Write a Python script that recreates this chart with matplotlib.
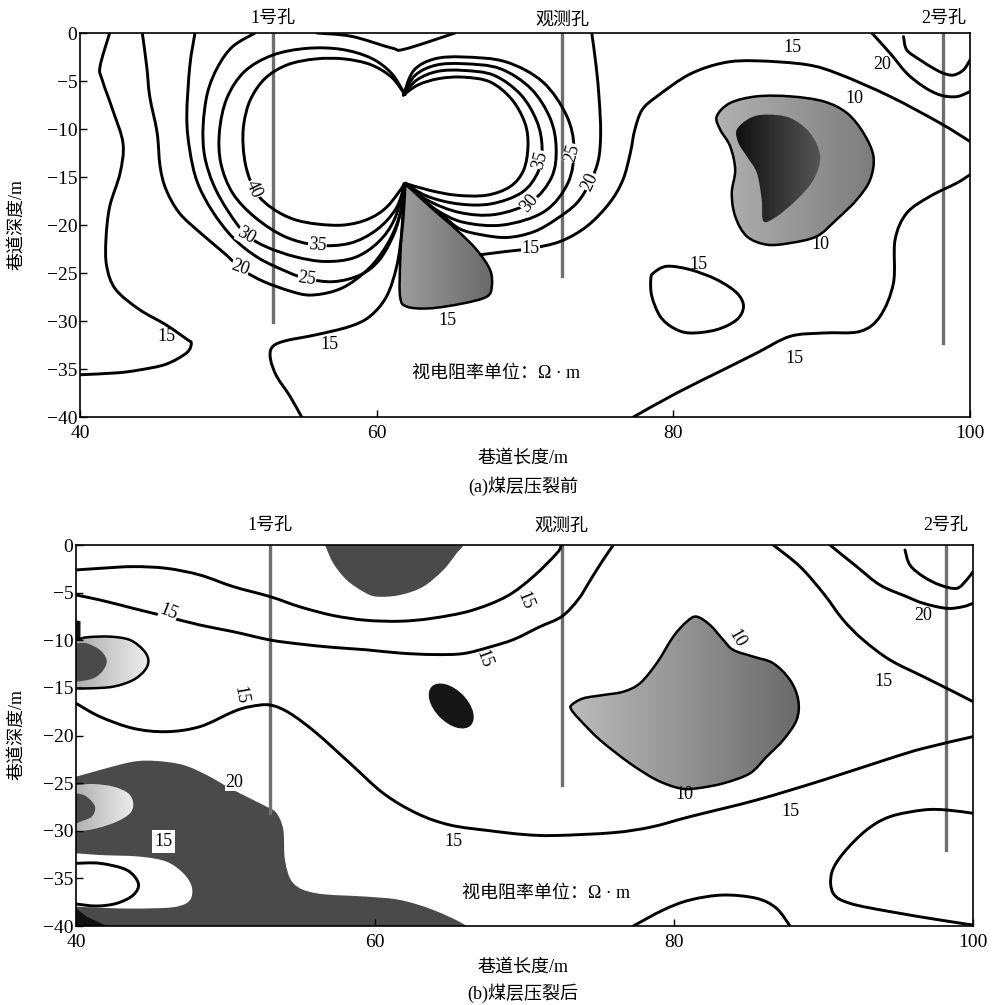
import numpy as np
import matplotlib.pyplot as plt
from matplotlib.patches import PathPatch, Ellipse
from matplotlib.path import Path
from matplotlib.colors import LinearSegmentedColormap
from matplotlib.transforms import ScaledTranslation

plt.rcParams['font.family'] = ['Liberation Serif', 'Noto Sans CJK SC']
plt.rcParams['axes.unicode_minus'] = True

# ---- shared ----
hole_names = ['1号孔', '观测孔', '2号孔']
hole_x = [53.0, 72.5, 98.2]
a_hole_depth = [-30.1, -25.3, -32.3]
b_hole_depth = [-28.1, -25.2, -32.0]
x_ticks = [40, 60, 80, 100]
y_ticks = [0, -5, -10, -15, -20, -25, -30, -35, -40]
unit_text = '视电阻率单位：Ω · m'

# ---- panel (a): before fracturing ----
a_15_left = [(42.0, 0), (41.35, -3.5), (41.5, -4.9), (42.2, -8.0), (42.9, -11.5), (42.7, -14.6),
             (42.0, -18.1), (41.75, -21.5), (41.8, -24.3), (42.4, -26.7), (44.0, -28.8), (45.8, -30.4),
             (47.2, -31.9), (47.5, -32.3), (47.2, -33.3), (45.8, -34.5), (44.0, -35.1), (42.5, -35.4),
             (40.0, -35.6)]
a_20_left = [(44.2, 0), (44.5, -3.5), (44.7, -6.6), (45.2, -10.4), (45.4, -13.9), (45.8, -16.3),
             (46.7, -18.75), (48.1, -20.8), (49.7, -22.9), (51.0, -24.7), (52.4, -25.9), (54.2, -26.9),
             (55.5, -27.3), (57.1, -26.9), (58.4, -25.9), (59.8, -24.0), (60.9, -21.5), (61.6, -18.75),
             (61.92, -15.66)]
a_25_left = [(47.75, 0), (47.4, -3.5), (47.2, -8.7), (47.4, -12.2), (47.9, -15.5), (48.9, -18.5),
             (50.3, -21.3), (52.0, -23.4), (54.0, -24.9), (55.3, -25.6), (57.1, -25.9), (58.9, -25.2),
             (60.2, -23.6), (61.2, -20.8), (61.7, -18.0), (61.92, -15.66)]
a_30_left = [(51.8, 0), (50.3, -1.4), (49.3, -3.5), (48.6, -6.2), (48.3, -9.7), (48.4, -12.8),
             (49.0, -15.8), (50.0, -18.6), (51.2, -21.0), (52.6, -22.3), (54.5, -23.3), (56.5, -23.8),
             (58.5, -23.4), (60.1, -21.8), (61.2, -19.4), (61.92, -15.66)]
a_35_left = [(61.91, -6.42), (61.0, -4.2), (59.6, -2.6), (57.6, -1.7), (55.3, -1.6), (53.0, -2.3),
             (51.1, -4.0), (49.9, -6.8), (49.4, -10.3), (49.5, -13.6), (50.3, -16.7), (51.8, -19.2),
             (53.8, -21.2), (56.0, -22.1), (58.2, -21.9), (60.0, -20.5), (61.3, -18.3), (61.92, -15.66)]
a_40_left = [(61.91, -6.42), (61.0, -4.6), (59.6, -3.3), (57.8, -2.7), (55.9, -2.7), (54.0, -3.3),
             (52.5, -4.7), (51.5, -6.9), (51.05, -9.4), (51.0, -11.8), (51.25, -14.3), (51.9, -16.7),
             (53.0, -18.3), (54.4, -19.4), (56.0, -19.9), (57.8, -20.0), (59.4, -19.4), (60.7, -18.1),
             (61.92, -15.66)]
a_40_right = [(61.8, -6.46), (62.8, -5.4), (64.2, -4.75), (65.85, -4.6), (67.65, -5.1), (69.1, -6.9),
              (70.0, -9.4), (70.2, -11.8), (69.9, -14.3), (69.0, -16.0), (67.4, -16.9), (65.4, -16.9),
              (63.6, -16.4), (61.92, -15.66)]
a_35_right = [(61.8, -6.46), (62.7, -4.9), (64.1, -4.0), (65.85, -3.9), (67.9, -4.4), (69.7, -6.4),
              (70.8, -9.2), (71.15, -11.9), (70.9, -14.4), (69.8, -16.6), (67.7, -17.8), (65.5, -17.8),
              (63.4, -17.0), (61.92, -15.66)]
a_30_right = [(61.8, -6.46), (62.6, -4.4), (64.0, -3.35), (65.85, -3.2), (68.3, -3.7), (70.4, -5.8),
              (71.7, -8.9), (72.1, -12.0), (71.8, -15.0), (70.4, -17.6), (68.0, -18.9), (65.6, -18.7),
              (63.4, -17.4), (61.92, -15.66)]
a_25_right = [(61.8, -6.46), (62.5, -3.9), (63.9, -2.7), (65.85, -2.5), (68.7, -3.0), (71.2, -5.1),
              (72.8, -8.6), (73.3, -12.0), (72.9, -15.6), (71.3, -18.6), (68.5, -20.0), (65.8, -19.7),
              (64.0, -18.4), (62.8, -16.8), (61.92, -15.66)]
a_20_right = [(74.5, 0), (74.8, -3.5), (75.0, -6.9), (75.1, -10.4), (74.95, -13.2), (74.4, -15.5),
              (73.5, -17.7), (72.1, -19.4), (70.6, -20.7), (68.8, -21.3), (67.0, -21.0), (65.6, -20.4),
              (64.5, -19.1), (63.2, -17.5), (61.92, -15.66)]
a_15_big = [(100.0, -11.3), (98.0, -9.4), (94.6, -6.6), (91.2, -4.3), (89.0, -3.3), (85.6, -2.9),
            (83.4, -3.1), (81.1, -4.3), (78.9, -6.6), (77.9, -8.0), (77.4, -10.1), (77.1, -12.5),
            (76.6, -15.3), (75.7, -17.7), (74.2, -20.1), (72.4, -21.7), (70.35, -22.45), (68.5, -22.8),
            (67.0, -23.1)]
a_15_lower = [(54.94, -40.0), (54.16, -37.85), (53.26, -35.76), (52.85, -34.03), (52.92, -32.81),
              (53.71, -32.12), (55.96, -31.42), (58.2, -30.56), (59.55, -29.51), (60.67, -27.43),
              (61.35, -24.31), (61.69, -20.83), (61.84, -18.06), (61.92, -15.66)]
a_top_v = [(55.96, 0), (58.31, -0.35), (61.01, -1.56), (61.91, -1.67), (65.28, 0)]
a_low_zone = [(61.92, -15.66), (63.6, -18.09), (65.4, -20.52), (66.75, -22.6), (67.65, -24.69),
              (67.76, -26.42), (67.42, -27.47), (65.85, -28.16), (63.6, -28.68), (62.03, -28.5),
              (61.58, -27.47), (61.58, -24.0), (61.69, -20.52), (61.8, -17.74)]
a_10_outer = [(82.93, -8.68), (83.83, -7.29), (85.63, -6.6), (87.87, -6.6), (90.12, -7.12), (91.7, -8.33),
              (92.82, -10.42), (93.49, -12.85), (93.27, -15.28), (92.37, -17.36), (91.0, -19.44),
              (89.67, -21.18), (87.87, -21.88), (86.3, -22.05), (84.95, -21.18), (84.17, -19.1),
              (83.94, -16.67), (84.17, -14.24), (83.83, -11.8), (83.16, -10.07)]
a_10_inner = [(84.28, -10.07), (85.18, -8.85), (86.3, -8.5), (87.87, -8.85), (89.22, -10.42),
              (89.9, -12.85), (89.45, -15.28), (88.32, -17.36), (86.98, -19.1), (86.08, -19.62),
              (85.96, -17.36), (85.63, -14.58), (84.95, -12.85), (84.39, -11.46)]
a_15_loop = [(78.66, -25.0), (79.56, -24.3), (81.13, -24.65), (82.93, -25.69), (84.28, -27.08),
             (84.73, -28.47), (84.28, -29.86), (82.93, -30.9), (81.13, -31.25), (80.01, -30.73),
             (79.11, -29.51), (78.55, -27.43), (78.48, -25.69)]
a_15_bottom = [(77.31, -40.0), (80.23, -37.5), (83.38, -35.07), (85.63, -33.33), (87.87, -31.6),
               (90.12, -31.25), (92.59, -31.08), (93.94, -29.51), (94.84, -26.04), (94.95, -21.53),
               (95.74, -18.75), (97.31, -17.01), (99.11, -15.63), (100.0, -14.76)]
a_20_corner = [(93.38, 0), (94.62, -2.12), (95.74, -4.2), (96.87, -5.59), (97.99, -6.46), (99.1, -6.63),
               (100.0, -6.1)]
a_25_corner = [(95.52, -0.38), (95.74, -1.77), (96.64, -2.81), (97.54, -3.68), (98.22, -4.2),
               (98.89, -4.38), (99.56, -3.85), (100.0, -2.81)]
a_labels = [(45.8, -31.6, '15', 0, False), (50.8, -24.5, '20', -20, True), (55.3, -25.6, '25', -8, True),
            (51.2, -21.1, '30', -30, True), (56.0, -22.1, '35', -5, True), (51.7, -16.3, '40', -65, True),
            (56.85, -32.4, '15', 0, False), (64.8, -29.9, '15', 0, False), (71.0, -13.2, '35', 75, True),
            (70.3, -17.7, '30', 50, True), (73.2, -12.5, '25', 75, True), (74.4, -15.5, '20', 65, True),
            (70.35, -22.4, '15', 0, True), (88.0, -1.5, '15', 0, False), (94.1, -3.3, '20', 0, False),
            (92.2, -6.8, '10', 0, False), (89.9, -22.0, '10', 0, False), (81.7, -24.1, '15', 0, False),
            (88.2, -33.9, '15', 0, False)]

# ---- panel (b): after fracturing ----
b_15_top = [(40, -2.62), (41.6, -2.45), (43.83, -2.27), (46.06, -2.45), (48.29, -3.15), (50.52, -4.37),
            (52.98, -5.42), (55.0, -6.5), (57.2, -7.4), (59.4, -7.9), (61.7, -8.0), (63.8, -7.7),
            (66.4, -6.9), (68.8, -5.4), (70.6, -3.3), (72.2, -0.8), (72.45, 0)]
b_15_mid = [(40, -5.25), (41.6, -5.77), (43.83, -6.65), (46.06, -7.52), (48.29, -8.4), (50.52, -9.1),
            (52.98, -9.97), (55.0, -10.4), (57.2, -10.75), (59.4, -11.0), (61.7, -11.35), (63.9, -11.5),
            (65.9, -11.4), (67.7, -10.7), (69.3, -9.9), (71.0, -8.6), (72.5, -7.5), (73.6, -5.7),
            (74.4, -3.7), (75.2, -1.7), (75.94, 0)]
b_15_low = [(40, -16.62), (41.6, -18.02), (43.83, -19.25), (46.06, -19.6), (48.29, -19.07), (50.52, -17.5),
            (51.64, -16.97), (52.98, -16.8), (54.31, -17.67), (56.1, -19.77), (58.33, -22.92),
            (60.56, -26.07), (62.79, -28.17), (65.02, -29.4), (67.69, -30.0), (70.0, -30.4), (72.0, -30.5),
            (75.95, -30.2), (78.5, -29.6), (81.07, -28.52), (85.53, -26.77), (89.99, -24.67),
            (94.45, -22.4), (96.68, -21.35), (100.0, -20.12)]
b_15_right = [(86.64, 0), (88.43, -2.27), (89.99, -5.07), (91.32, -7.87), (92.66, -9.97), (94.45, -12.07),
              (96.68, -13.82), (98.91, -15.57), (100.0, -16.45)]
b_20_right = [(90.43, 0), (92.22, -2.27), (93.78, -4.2), (95.56, -5.42), (96.68, -6.12), (98.24, -6.65),
              (99.35, -6.47), (100.0, -6.12)]
b_25_corner = [(95.45, -0.52), (95.78, -2.1), (96.68, -3.32), (97.79, -4.2), (98.91, -4.55),
               (99.57, -3.67), (100.0, -2.8)]
b_low_right = [(100.0, -28.17), (98.24, -27.82), (96.68, -27.82), (94.45, -28.52), (92.88, -29.92),
               (91.32, -32.37), (90.54, -34.47), (90.65, -36.57), (91.77, -37.62), (94.45, -38.49),
               (97.79, -39.37), (100.0, -39.9)]
b_low_arc = [(77.28, -40.0), (79.28, -38.32), (81.07, -37.27), (83.3, -36.75), (85.53, -37.1),
             (86.86, -38.15), (87.76, -40.0)]
b_10_zone = [(73.15, -16.8), (73.93, -16.1), (75.27, -15.75), (76.61, -15.4), (77.72, -14.52),
             (78.84, -12.42), (79.95, -9.62), (80.85, -8.05), (81.51, -7.52), (82.41, -8.4), (83.3, -9.97),
             (83.97, -11.02), (85.3, -11.72), (86.64, -12.42), (87.76, -14.17), (88.31, -16.27),
             (88.2, -18.37), (87.31, -20.47), (86.2, -22.22), (85.08, -23.97), (83.3, -25.02),
             (81.51, -25.55), (80.4, -25.55), (78.84, -24.67), (77.05, -22.92), (75.05, -20.47),
             (73.71, -18.37), (73.15, -17.32)]
b_dark_top = [(56.3, 1.5), (56.66, 0), (57.21, -1.92), (58.1, -3.67), (59.22, -4.9), (60.11, -5.42),
              (61.67, -5.25), (63.23, -4.37), (64.57, -2.62), (65.46, -0.87), (65.91, 0), (66.2, 1.5)]
b_dark_low = [(40, -24.32), (41.6, -23.62), (43.83, -22.75), (45.4, -22.68), (47.18, -23.1),
              (48.74, -24.15), (50.52, -25.72), (52.75, -27.47), (53.42, -28.17), (53.87, -29.92),
              (53.98, -33.07), (54.54, -35.52), (56.1, -36.57), (59.44, -36.92), (61.67, -37.27),
              (63.9, -38.32), (66.13, -40.0), (67.5, -42), (38, -42), (38, -25.0)]
b_white_low = [(39, -32.37), (40, -32.37), (41.6, -32.55), (44.28, -32.72), (46.06, -33.25), (47.18, -34.47),
               (47.74, -35.87), (47.63, -37.27), (46.73, -37.97), (44.95, -38.15), (42.72, -38.15),
               (40, -37.97), (39, -37.97)]
b_15_loop = [(40, -33.42), (41.6, -33.42), (43.39, -34.12), (44.17, -35.52), (43.83, -36.75),
             (42.72, -37.62), (41.38, -37.9), (40, -37.69)]
b_crescent_up = [(39, -9.97), (40, -9.97), (40.71, -9.69), (42.27, -9.62), (43.61, -9.97), (44.5, -11.02),
                 (44.84, -12.07), (44.62, -13.12), (43.83, -14.17), (42.5, -14.87), (40.94, -15.05),
                 (40, -15.05), (39, -15.05)]
b_core_up = [(39, -10.32), (40, -10.32), (40.71, -10.32), (41.6, -11.02), (42.05, -12.07), (41.83, -13.12),
             (41.16, -14.0), (40, -14.35), (39, -14.35)]
b_crescent_low = [(39, -25.2), (40, -25.2), (41.16, -25.09), (42.5, -25.37), (43.5, -26.07), (43.83, -27.12),
                  (43.61, -28.17), (42.72, -29.05), (41.38, -29.75), (40, -30.1), (39, -30.1)]
b_core_low = [(39, -26.07), (40, -26.07), (40.71, -26.42), (41.27, -27.47), (41.05, -28.52),
              (40.27, -29.05), (40, -29.22), (39, -29.22)]
b_black_corner = [(40, -38.15), (40, -40), (42.05, -40), (40.71, -39.0)]
b_black_edge = [(40, -7.9), (40.3, -8.0), (40.3, -10.3), (40, -10.3)]
b_black_spot = (65.1, -16.9)
b_labels = [(46.2, -7.1, '15', -22, True), (70.0, -5.8, '15', -68, True), (67.3, -12.0, '15', -70, False),
            (51.0, -15.8, '15', -80, False), (50.6, -24.9, '20', 0, True), (65.24, -31.15, '15', 0, False),
            (87.8, -28.0, '15', 0, False), (94.0, -14.35, '15', 0, False), (96.7, -7.35, '20', 0, False),
            (84.2, -9.8, '10', -60, False), (80.7, -26.2, '10', 0, False)]
b_box_label = (45.84, -31.15, '15')


def smooth(pts, closed=False):
    # Catmull-Rom through the read points, drawn as cubic Bezier segments
    p = np.array(pts, float)
    n = len(p)
    if closed:
        ext = np.vstack([p[-1], p, p[0], p[1]])
        segs = n
    else:
        ext = np.vstack([p[0], p, p[-1]])
        segs = n - 1
    verts = [ext[1]]
    codes = [Path.MOVETO]
    for i in range(1, segs + 1):
        p0, p1, p2, p3 = ext[i - 1], ext[i], ext[i + 1], ext[i + 2]
        verts += [p1 + (p2 - p0) / 6, p2 - (p3 - p1) / 6, p2]
        codes += [Path.CURVE4] * 3
    if closed:
        verts.append(verts[0])
        codes.append(Path.CLOSEPOLY)
    return Path(verts, codes)


def line(ax, pts, closed=False):
    ax.add_patch(PathPatch(smooth(pts, closed), fc='none', ec='k', lw=2.1,
                           capstyle='round', joinstyle='round', zorder=3))


def flat(ax, pts, color, z=1, curved=True):
    path = smooth(pts, True) if curved else Path(pts + [pts[0]], closed=True)
    ax.add_patch(PathPatch(path, fc=color, ec='none', zorder=z))


def shade(ax, pts, c0, c1, edge=True, z=1.5):
    patch = PathPatch(smooth(pts, True), fc='none', ec='k' if edge else 'none', lw=1.8, zorder=z + 0.1)
    ax.add_patch(patch)
    x, y = np.array(pts).T
    cmap = LinearSegmentedColormap.from_list('g', [c0, c1])
    im = ax.imshow(np.linspace(0, 1, 128)[None, :], cmap=cmap, aspect='auto', origin='lower',
                   extent=(x.min() - 0.5, x.max() + 0.5, y.min() - 0.5, y.max() + 0.5), zorder=z,
                   interpolation='bilinear')
    im.set_clip_path(patch)


def labels(ax, items):
    for x, y, s, rot, boxed in items:
        kw = dict(bbox=dict(fc='white', ec='none', pad=0.3)) if boxed else {}
        ax.text(x, y, s, fontsize=13, rotation=rot, ha='center', va='center',
                rotation_mode='anchor', zorder=5, **kw)


def frame(ax, depths, name_y):
    for hx, d, name in zip(hole_x, depths, hole_names):
        ax.plot([hx, hx], [0, d], color='#6e6e6e', lw=2.4, zorder=2.6)
        ax.text(hx, name_y, name, fontsize=13, ha='center', va='bottom', clip_on=False)
    ax.set_xlim(40, 100)
    ax.set_ylim(-40, 0)
    ax.set_xticks(x_ticks)
    ax.set_yticks(y_ticks)
    ax.tick_params(direction='in', length=5, width=1, labelsize=14, top=False, right=False)
    ax.tick_params(axis='x', pad=6)
    ax.tick_params(axis='y', pad=2)
    for sp in ax.spines.values():
        sp.set_linewidth(1.2)
        sp.set_zorder(6)


fig = plt.figure(figsize=(9.93, 10.05), dpi=100)
ax_a = fig.add_axes([80 / 993, 1 - 417 / 1005, 890 / 993, 384 / 1005])
ax_b = fig.add_axes([76 / 993, 1 - 926 / 1005, 897 / 993, 381 / 1005])

# panel (a)
shade(ax_a, a_low_zone, '#a0a0a0', '#666666')
shade(ax_a, a_10_outer, '#b4b4b4', '#7a7a7a')
shade(ax_a, a_10_inner, '#0a0a0a', '#5c5c5c', edge=False, z=1.8)
for c in [a_15_left, a_20_left, a_25_left, a_30_left, a_35_left, a_40_left,
          a_40_right, a_35_right, a_30_right, a_25_right, a_20_right, a_15_big,
          a_15_lower, a_top_v, a_15_bottom, a_20_corner, a_25_corner]:
    line(ax_a, c)
line(ax_a, a_15_loop, closed=True)
labels(ax_a, a_labels)
ax_a.text(62.4, -35.5, unit_text, fontsize=13, va='center')
frame(ax_a, a_hole_depth, 0.5)

# panel (b)
flat(ax_b, b_dark_top, '#4a4a4a')
flat(ax_b, b_dark_low, '#4a4a4a')
flat(ax_b, b_white_low, 'white', z=1.2)
flat(ax_b, b_black_corner, '#111111', z=1.3, curved=False)
flat(ax_b, b_black_edge, '#111111', z=1.3, curved=False)
shade(ax_b, b_crescent_up, '#9a9a9a', '#f4f4f4')
flat(ax_b, b_core_up, '#4a4a4a', z=1.9)
shade(ax_b, b_crescent_low, '#9a9a9a', '#f4f4f4', edge=False)
flat(ax_b, b_core_low, '#4a4a4a', z=1.9)
shade(ax_b, b_10_zone, '#bdbdbd', '#686868')
spot = Ellipse((0, 0), width=0.55, height=0.32, angle=-45, fc='#161616', ec='none', zorder=2,
               transform=fig.dpi_scale_trans + ScaledTranslation(*b_black_spot, ax_b.transData))
ax_b.add_patch(spot)
for c in [b_15_top, b_15_mid, b_15_low, b_15_right, b_20_right, b_25_corner, b_low_right,
          b_low_arc, b_15_loop]:
    line(ax_b, c)
labels(ax_b, b_labels)
bx, by, bs = b_box_label
ax_b.text(bx, by, bs, fontsize=13, ha='center', va='center', zorder=5,
          bbox=dict(fc='white', ec='none', pad=2))
ax_b.text(65.8, -36.6, unit_text, fontsize=13, va='center')
frame(ax_b, b_hole_depth, 1.1)

# axis titles and captions
for yc in [225, 735]:
    fig.text(17 / 993, 1 - yc / 1005, '巷道深度/m', rotation=90, fontsize=13, ha='center', va='center')
fig.text(523 / 993, 1 - 458 / 1005, '巷道长度/m', fontsize=13, ha='center', va='center')
fig.text(523 / 993, 1 - 486 / 1005, '(a)煤层压裂前', fontsize=13, ha='center', va='center')
fig.text(523 / 993, 1 - 967 / 1005, '巷道长度/m', fontsize=13, ha='center', va='center')
fig.text(523 / 993, 1 - 993 / 1005, '(b)煤层压裂后', fontsize=13, ha='center', va='center')

fig.savefig('out.png', dpi=100)
